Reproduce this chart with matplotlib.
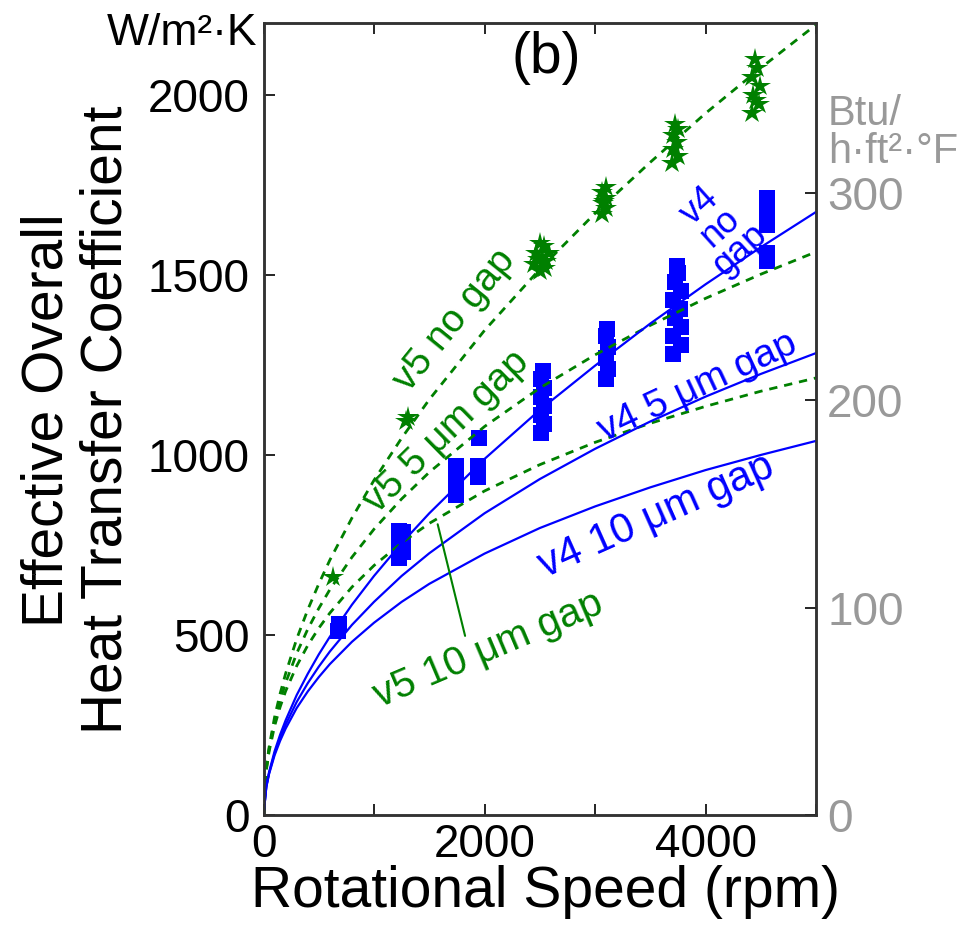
import matplotlib
matplotlib.use('Agg')
import matplotlib.pyplot as plt

plt.rcParams['font.family'] = ['Liberation Sans', 'DejaVu Sans']

# model curves (W/m2K vs rpm)
rpm_grid = [0, 25, 50, 100, 150, 200, 300, 400, 500, 600, 800, 1000, 1250, 1500,
            2000, 2500, 3000, 3500, 4000, 4500, 5000]
v4_nogap = [0, 80, 119, 177, 223, 263, 333, 392, 446, 495, 584, 664, 755, 838,
            989, 1125, 1248, 1365, 1474, 1577, 1675]
v4_5um = [0, 79, 116, 171, 214, 251, 314, 366, 412, 454, 528, 592, 664, 727,
          838, 933, 1017, 1093, 1162, 1225, 1283]
v4_10um = [0, 77, 114, 166, 206, 240, 297, 343, 383, 419, 481, 534, 592, 642,
           726, 797, 857, 910, 958, 1000, 1039]
v5_nogap = [0, 130, 188, 272, 337, 393, 489, 570, 642, 708, 825, 930, 1047, 1154,
            1346, 1516, 1671, 1813, 1949, 2075, 2195]
v5_5um = [0, 127, 182, 259, 318, 367, 449, 516, 574, 626, 716, 794, 878, 952,
          1079, 1186, 1278, 1360, 1435, 1502, 1564]
v5_10um = [0, 124, 176, 247, 300, 344, 414, 471, 519, 561, 633, 693, 756, 810,
           900, 973, 1035, 1088, 1135, 1177, 1214]

# measured points, v5 (stars)
v5_rpm = [630, 1290, 1310,
          2450, 2470, 2500, 2520, 2550, 2580, 2500, 2540, 2480, 2560,
          3060, 3100, 3070, 3095, 3065, 3100, 3080,
          3700, 3750, 3710, 3745, 3705, 3750, 3725,
          4420, 4480, 4430, 4490, 4420, 4470, 4450, 4460]
v5_h = [660, 1095, 1105,
        1530, 1560, 1590, 1550, 1520, 1560, 1510, 1580, 1545, 1540,
        1670, 1685, 1700, 1715, 1730, 1745, 1705,
        1810, 1830, 1850, 1870, 1890, 1905, 1920,
        1950, 1975, 2000, 2025, 2050, 2075, 2100, 1985]

# measured points, v4 (squares)
v4_rpm = [670, 680,
          1230, 1230, 1230, 1230, 1260, 1260, 1260,
          1740, 1740, 1740, 1740, 1940, 1940, 1950,
          2510, 2540, 2510, 2540, 2510, 2540, 2510, 2530,
          3100, 3120, 3100, 3120, 3100, 3110,
          3710, 3780, 3710, 3780, 3720, 3770, 3710, 3780, 3720, 3750, 3740,
          4560, 4560, 4560, 4560, 4560, 4560]
v4_h = [510, 530,
        715, 740, 765, 790, 730, 760, 785,
        890, 920, 945, 970, 940, 968, 1048,
        1060, 1085, 1110, 1135, 1160, 1185, 1210, 1233,
        1210, 1240, 1270, 1300, 1330, 1350,
        1280, 1305, 1330, 1355, 1380, 1405, 1430, 1455, 1480, 1505, 1525,
        1540, 1560, 1640, 1665, 1690, 1715]

w_per_btu = 5.76  # W/m2K per Btu/h ft2 F, as drawn on the right axis

green = '#008000'
blue = '#0000ff'
gray = '#999999'
dash = (0, (3, 2.5))

fig = plt.figure(figsize=(9.65, 9.26), dpi=100)
ax = fig.add_axes([0.2731, 0.1199, 0.5725, 0.8553])

ax.plot(v5_rpm, v5_h, linestyle='none', marker='*', ms=16, color=green, mew=0, zorder=2)
ax.plot(v4_rpm, v4_h, linestyle='none', marker='s', ms=12, color=blue, mew=0, zorder=2)

ax.plot(rpm_grid, v5_nogap, color=green, lw=2, linestyle=dash, zorder=3)
ax.plot(rpm_grid, v5_5um, color=green, lw=2, linestyle=dash, zorder=3)
ax.plot(rpm_grid, v5_10um, color=green, lw=2, linestyle=dash, zorder=3)
ax.plot(rpm_grid, v4_nogap, color=blue, lw=1.6, zorder=3)
ax.plot(rpm_grid, v4_5um, color=blue, lw=1.6, zorder=3)
ax.plot(rpm_grid, v4_10um, color=blue, lw=1.6, zorder=3)

ax.set_xlim(0, 5000)
ax.set_ylim(0, 2200)
ax.set_xticks([0, 1000, 2000, 3000, 4000, 5000])
ax.set_xticklabels(['0', '', '2000', '', '4000', ''])
ax.set_yticks([0, 500, 1000, 1500, 2000])
ax.tick_params(direction='in', length=8, width=1.2, labelsize=33, top=True, right=False)
ax.tick_params(axis='y', pad=10)
ax.tick_params(axis='x', pad=6)
for s in ax.spines.values():
    s.set_color('#333333')
    s.set_linewidth(1.8)

ax2 = ax.twinx()
ax2.set_ylim(0, 2200 / w_per_btu)
ax2.set_yticks([0, 100, 200, 300])
ax2.tick_params(direction='in', length=8, width=1.2, labelsize=33, labelcolor=gray, pad=8)
for s in ax2.spines.values():
    s.set_color('#333333')
    s.set_linewidth(1.8)

# curve labels
ax.text(1733, 1375, 'v5 no gap', color=green, fontsize=28, rotation=51,
        ha='center', va='center', rotation_mode='anchor')
ax.text(1656, 1064, 'v5 5 μm gap', color=green, fontsize=28, rotation=44.5,
        ha='center', va='center', rotation_mode='anchor')
ax.text(2032, 458, 'v5 10 μm gap', color=green, fontsize=29, rotation=23,
        ha='center', va='center', rotation_mode='anchor')
ax.annotate('', xy=(1570, 815), xytext=(1830, 490),
            arrowprops=dict(arrowstyle='-', color=green, lw=1.5))
ax.text(4131, 1631, 'v4\nno\ngap', color=blue, fontsize=26, rotation=42,
        ha='center', va='center', rotation_mode='anchor', linespacing=0.8)
ax.text(3932, 1189, 'v4 5 μm gap', color=blue, fontsize=28, rotation=25,
        ha='center', va='center', rotation_mode='anchor')
ax.text(3560, 830, 'v4 10 μm gap', color=blue, fontsize=30, rotation=24,
        ha='center', va='center', rotation_mode='anchor')
ax.text(2557, 2103, '(b)', fontsize=41, ha='center', va='center')

# axis titles
fig.text(0.2663, 0.9514, 'W/m²·K', fontsize=32, ha='right', va='baseline')
fig.text(0.858, 0.824, 'Btu/\nh·ft²·°F', fontsize=30, color=gray,
         ha='left', va='baseline', linespacing=0.92)
fig.text(0.5648, 0.0205, 'Rotational Speed (rpm)', fontsize=41, ha='center', va='baseline')
fig.text(0.0798, 0.5464, 'Effective Overall\nHeat Transfer Coefficient', fontsize=41,
         rotation=90, ha='center', va='center', multialignment='center', linespacing=1.1)

fig.savefig('out.png', dpi=100)
